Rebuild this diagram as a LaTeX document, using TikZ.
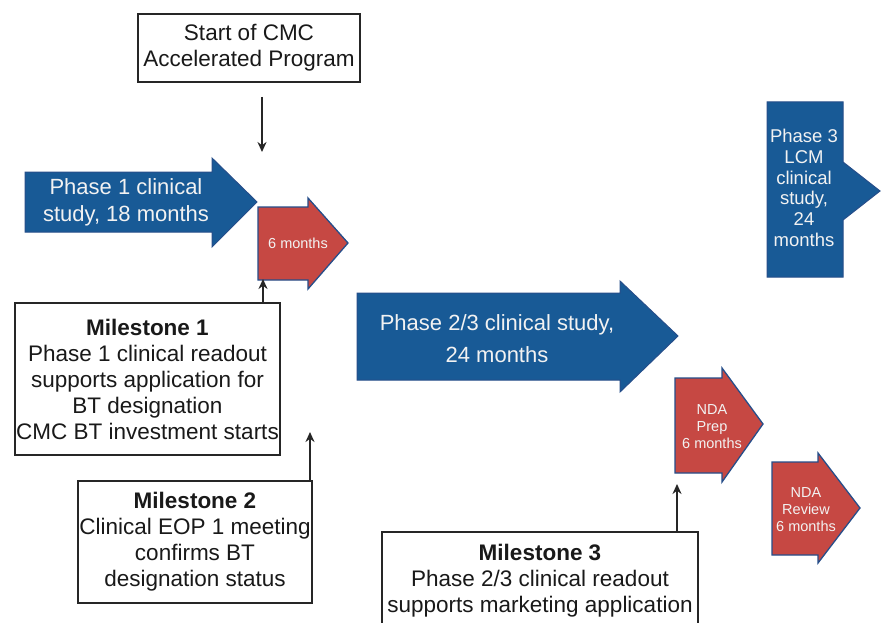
\documentclass[tikz,border=0pt]{standalone}
\usepackage{fontspec}
\setmainfont{Liberation Sans}
\usetikzlibrary{arrows.meta}
\definecolor{phaseblue}{RGB}{24,90,150}
\definecolor{phaseedge}{RGB}{38,78,138}
\definecolor{prepred}{RGB}{198,72,67}
\definecolor{textlight}{RGB}{242,242,242}
\tikzset{
  bluearrow/.style={fill=phaseblue, draw=phaseedge, line width=1pt, line join=miter},
  redarrow/.style={fill=prepred, draw=phaseedge, line width=1.3pt, line join=miter},
  bigtext/.style={text=textlight, align=center, inner sep=0pt, font=\fontsize{22}{27}\selectfont},
  midtext/.style={text=textlight, align=center, inner sep=0pt, font=\fontsize{18.5}{20.7}\selectfont},
  smalltext/.style={text=textlight, align=center, inner sep=0pt, font=\fontsize{14.5}{17}\selectfont},
  msbox/.style={draw=black!85, line width=1.4pt, fill=white, align=center, inner sep=1pt,
    text=black!90, font=\fontsize{22.5}{26}\selectfont},
  conn/.style={draw=black!85, line width=2pt, -{Stealth[length=10pt,width=9pt]}},
}
\begin{document}
\begin{tikzpicture}[x=1pt, y=-1pt]
  \clip (0,0) rectangle (883,623);
  \fill[white] (0,0) rectangle (883,623);

  % phase blocks
  \draw[bluearrow] (25,172) -- (212,172) -- (212,158) -- (257,202) -- (212,247) -- (212,232) -- (25,232) -- cycle;
  \node[bigtext] (p1) at (126,202) {Phase 1 clinical\\study, 18 months};

  \draw[redarrow] (258,207) -- (308,207) -- (308,198) -- (348,243) -- (308,289) -- (308,280) -- (258,280) -- cycle;
  \node[smalltext] (six) at (298,243) {6 months};

  \draw[bluearrow] (767,102) -- (843,102) -- (843,162) -- (880,191) -- (843,220) -- (843,277) -- (767,277) -- cycle;
  \node[midtext] (p3) at (804,188) {Phase 3\\LCM\\clinical\\study,\\24\\months};

  \draw[bluearrow] (357,293) -- (620,293) -- (620,281) -- (678,336) -- (620,392) -- (620,380) -- (357,380) -- cycle;
  \node[bigtext, font=\fontsize{22}{32}\selectfont] (p23) at (497,339) {Phase 2/3 clinical study,\\24 months};

  \draw[redarrow] (675,378) -- (722,378) -- (722,368) -- (763,424) -- (722,482) -- (722,473) -- (675,473) -- cycle;
  \node[smalltext] (prep) at (712,427) {NDA\\Prep\\6 months};

  \draw[redarrow] (772,462) -- (818,462) -- (818,453) -- (860,508) -- (818,563) -- (818,555) -- (772,555) -- cycle;
  \node[smalltext] (review) at (806,510) {NDA\\Review\\6 months};

  % milestone boxes
  \node[msbox, minimum width=222pt, minimum height=68pt] (start) at (249,48)
    {Start of CMC\\Accelerated Program};
  \node[msbox, minimum width=265pt, minimum height=152pt] (ms1) at (147.5,379)
    {\textbf{Milestone 1}\\Phase 1 clinical readout\\supports application for\\BT designation\\CMC BT investment starts};
  \node[msbox, minimum width=234pt, minimum height=122pt] (ms2) at (195,542)
    {\textbf{Milestone 2}\\Clinical EOP 1 meeting\\confirms BT\\designation status};
  \node[msbox, minimum width=316pt, minimum height=98pt] (ms3) at (540,581)
    {\textbf{Milestone 3}\\Phase 2/3 clinical readout\\supports marketing application};

  % connectors
  \coordinate (startgap) at (262,97);
  \coordinate (p1end) at (262,152);
  \coordinate (sixbot) at (263,279);
  \coordinate (m2tip) at (310,432);
  \coordinate (preptip) at (677,484);
  \draw[conn] (startgap) -- (p1end);
  \draw[conn] (ms1.north -| sixbot) -- (sixbot);
  \draw[conn] (ms2.north -| m2tip) -- (m2tip);
  \draw[conn] (ms3.north -| preptip) -- (preptip);
\end{tikzpicture}
\end{document}
